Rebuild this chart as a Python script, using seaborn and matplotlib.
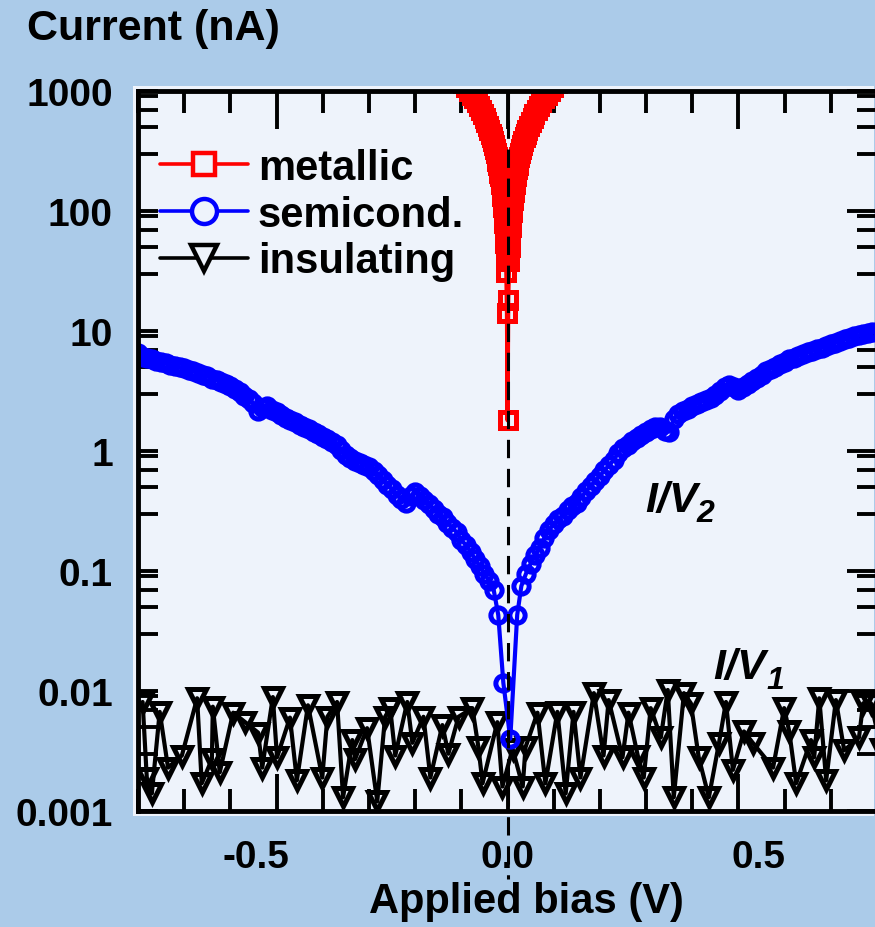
import matplotlib
matplotlib.use("Agg")
import matplotlib.pyplot as plt
import matplotlib.transforms as mtransforms
from matplotlib.lines import Line2D
from matplotlib.patches import Rectangle
from matplotlib.ticker import FixedLocator, FixedFormatter, LogLocator, NullFormatter, MultipleLocator
import seaborn as sns

# ---------------- data (bias in V, current in nA) ----------------
metal_bias_neg = [-0.1129, -0.1048, -0.0973, -0.0903, -0.0838, -0.0778, -0.0722, -0.0670, -0.0622, -0.0577,
                  -0.0535, -0.0497, -0.0461, -0.0428, -0.0397, -0.0368, -0.0342, -0.0318, -0.0294, -0.0273,
                  -0.0253, -0.0235, -0.0218, -0.0203, -0.0188, -0.0174, -0.0162, -0.0150, -0.0139, -0.0129,
                  -0.0120, -0.0112, -0.0103, -0.0096, -0.0089, -0.0083, -0.0077, -0.0071, -0.0066, -0.0061,
                  -0.0057, -0.0053, -0.0048, -0.0045, -0.0042, -0.0038, -0.0035, -0.0032, -0.0026, -0.0012]
metal_curr_neg = [1355, 1258, 1167, 1083, 1005, 933, 866, 804, 746, 692,
                  642, 596, 553, 513, 476, 442, 410, 381, 353, 328,
                  304, 282, 262, 243, 225, 209, 194, 180, 167, 155,
                  144, 134, 124, 115, 107, 99, 92, 85, 79, 73,
                  68, 63, 58, 54, 50, 46, 42, 38, 31, 14]
metal_bias_zero = [0.0002]
metal_curr_zero = [1.8]
metal_bias_pos = [0.0016, 0.0035, 0.0038, 0.0042, 0.0045, 0.0049, 0.0053, 0.0057, 0.0062, 0.0066,
                  0.0072, 0.0077, 0.0084, 0.0090, 0.0097, 0.0105, 0.0113, 0.0122, 0.0131, 0.0141,
                  0.0152, 0.0164, 0.0176, 0.0190, 0.0205, 0.0221, 0.0238, 0.0256, 0.0276, 0.0298,
                  0.0321, 0.0346, 0.0373, 0.0402, 0.0433, 0.0466, 0.0503, 0.0542, 0.0584, 0.0629,
                  0.0678, 0.0731, 0.0787, 0.0848, 0.0914, 0.0985, 0.1061, 0.1144, 0.1232]
metal_curr_pos = [18, 38, 42, 46, 50, 54, 58, 63, 68, 73,
                  79, 85, 92, 99, 107, 115, 124, 134, 144, 155,
                  167, 180, 194, 209, 225, 243, 262, 282, 304, 328,
                  353, 381, 410, 442, 476, 513, 553, 596, 642, 692,
                  746, 804, 866, 933, 1005, 1083, 1167, 1258, 1355]

semi_bias = [-0.80, -0.79, -0.78, -0.77, -0.76, -0.75, -0.74, -0.73, -0.72, -0.71,
             -0.70, -0.69, -0.68, -0.67, -0.66, -0.65, -0.64, -0.63, -0.62, -0.61,
             -0.60, -0.59, -0.58, -0.57, -0.56, -0.55, -0.54, -0.53, -0.52, -0.51,
             -0.50, -0.49, -0.48, -0.47, -0.46, -0.45, -0.44, -0.43, -0.42, -0.41,
             -0.40, -0.39, -0.38, -0.37, -0.36, -0.35, -0.34, -0.33, -0.32, -0.31,
             -0.30, -0.29, -0.28, -0.27, -0.26, -0.25, -0.24, -0.23, -0.22, -0.21,
             -0.20, -0.19, -0.18, -0.17, -0.16, -0.15, -0.14, -0.13, -0.12, -0.11,
             -0.10, -0.09, -0.08, -0.07, -0.06, -0.05, -0.04, -0.03,
             -0.020, -0.009, 0.006, 0.021,
             0.03, 0.04, 0.05, 0.06, 0.07, 0.08, 0.09, 0.10, 0.11, 0.12,
             0.13, 0.14, 0.15, 0.16, 0.17, 0.18, 0.19, 0.20, 0.21, 0.22,
             0.23, 0.24, 0.25, 0.26, 0.27, 0.28, 0.29, 0.30, 0.31, 0.32,
             0.33, 0.34, 0.35, 0.36, 0.37, 0.38, 0.39, 0.40, 0.41, 0.42,
             0.43, 0.44, 0.45, 0.46, 0.47, 0.48, 0.49, 0.50, 0.51, 0.52,
             0.53, 0.54, 0.55, 0.56, 0.57, 0.58, 0.59, 0.60, 0.61, 0.62,
             0.63, 0.64, 0.65, 0.66, 0.67, 0.68, 0.69, 0.70, 0.71, 0.72,
             0.73, 0.74, 0.75, 0.76, 0.77, 0.78, 0.79, 0.80]
semi_curr = [6.5, 6.1, 6.0, 5.8, 5.6, 5.5, 5.4, 5.2, 5.1, 5.0,
             4.9, 4.7, 4.6, 4.5, 4.3, 4.2, 4.0, 3.9, 3.75, 3.6,
             3.45, 3.3, 3.1, 2.9, 2.7, 2.5, 2.15, 2.3, 2.35, 2.2,
             2.1, 2.0, 1.9, 1.82, 1.75, 1.66, 1.58, 1.52, 1.45, 1.38,
             1.3, 1.25, 1.18, 1.12, 1.02, 0.93, 0.87, 0.82, 0.80, 0.77,
             0.74, 0.68, 0.63, 0.57, 0.52, 0.48, 0.43, 0.40, 0.37, 0.42,
             0.455, 0.42, 0.39, 0.36, 0.33, 0.30, 0.28, 0.25, 0.23, 0.21,
             0.18, 0.165, 0.145, 0.125, 0.11, 0.095, 0.083, 0.070,
             0.043, 0.0117, 0.004, 0.043,
             0.075, 0.095, 0.115, 0.135, 0.155, 0.19, 0.22, 0.245, 0.27, 0.29,
             0.32, 0.345, 0.37, 0.41, 0.46, 0.51, 0.565, 0.62, 0.69, 0.76,
             0.84, 0.97, 1.05, 1.12, 1.20, 1.29, 1.36, 1.44, 1.52, 1.58,
             1.60, 1.48, 1.45, 1.85, 2.05, 2.15, 2.25, 2.38, 2.48, 2.58,
             2.68, 2.77, 2.95, 3.15, 3.40, 3.55, 3.40, 3.22, 3.40, 3.62,
             3.80, 4.05, 4.30, 4.60, 4.85, 5.05, 5.30, 5.55, 5.80, 6.00,
             6.20, 6.45, 6.65, 6.85, 7.05, 7.25, 7.50, 7.75, 8.00, 8.25,
             8.50, 8.75, 9.00, 9.20, 9.40, 9.60, 9.75, 9.90]

ins_bias = [-0.790, -0.781, -0.770, -0.753, -0.735, -0.705, -0.672, -0.662, -0.640, -0.638,
            -0.623, -0.594, -0.568, -0.540, -0.531, -0.508, -0.499, -0.471, -0.456, -0.432,
            -0.401, -0.390, -0.369, -0.356, -0.336, -0.330, -0.304, -0.282, -0.265, -0.254,
            -0.243, -0.217, -0.206, -0.182, -0.167, -0.141, -0.128, -0.106, -0.076, -0.063,
            -0.054, -0.022, -0.011, 0.011, 0.033, 0.039, 0.065, 0.082, 0.108, 0.126,
            0.143, 0.158, 0.187, 0.208, 0.219, 0.249, 0.262, 0.282, 0.295, 0.310,
            0.332, 0.347, 0.360, 0.382, 0.397, 0.414, 0.436, 0.458, 0.473, 0.488,
            0.512, 0.531, 0.575, 0.599, 0.610, 0.625, 0.657, 0.664, 0.675, 0.690,
            0.711, 0.729, 0.761, 0.770, 0.787, 0.809]
ins_curr = [0.0081, 0.0019, 0.0014, 0.0067, 0.0023, 0.0029, 0.0087, 0.0017, 0.0027, 0.0074,
            0.0021, 0.0066, 0.0055, 0.0045, 0.0023, 0.0089, 0.0028, 0.0060, 0.0018, 0.0076,
            0.0019, 0.0061, 0.0081, 0.0013, 0.0039, 0.0027, 0.0049, 0.0012, 0.0061, 0.0072,
            0.0029, 0.0081, 0.0037, 0.0061, 0.0019, 0.0052, 0.0030, 0.0061, 0.0072, 0.0034,
            0.0017, 0.0055, 0.0016, 0.0033, 0.0016, 0.0034, 0.0066, 0.0017, 0.0067, 0.0014,
            0.0067, 0.0019, 0.0096, 0.0029, 0.0084, 0.0028, 0.0066, 0.0029, 0.0019, 0.0072,
            0.0041, 0.0102, 0.0013, 0.0096, 0.0079, 0.0028, 0.0013, 0.0037, 0.0081, 0.0022,
            0.0046, 0.0037, 0.0023, 0.0072, 0.0046, 0.0017, 0.0039, 0.0028, 0.0087, 0.0018,
            0.0084, 0.0032, 0.0041, 0.0079, 0.0079, 0.0033]

series_labels = ["metallic", "semicond.", "insulating"]
ytick_values = [1e-3, 1e-2, 1e-1, 1, 10, 100, 1000]
ytick_labels = ["0.001", "0.01", "0.1", "1", "10", "100", "1000"]
xtick_values = [-0.5, 0.0, 0.5]
xtick_labels = ["-0.5", "0.0", "0.5"]

# ---------------- style ----------------
sns.set_style("ticks")
plt.rcParams["font.family"] = ["Liberation Sans", "DejaVu Sans"]
plt.rcParams["font.weight"] = "bold"
for key in ("text.color", "axes.labelcolor", "xtick.color", "ytick.color", "axes.edgecolor"):
    plt.rcParams[key] = "black"

BG = "#abcbe9"
FACE = "#eef3fb"
W, H = 875, 928


def fx(px):
    return px / W


def fy(py):
    return 1 - py / H


fig = plt.figure(figsize=(W / 100, H / 100), dpi=100, facecolor=BG)
ax = fig.add_axes([fx(138), fy(812), fx(877) - fx(138), fy(92) - fy(812)])
ax.patch.set_visible(False)
fig.patches.append(Rectangle((fx(133), fy(817)), fx(873.5) - fx(133), fy(87) - fy(817),
                             transform=fig.transFigure, facecolor=FACE, edgecolor="none", zorder=-1))

line_kw = dict(sort=False, estimator=None, legend=False, ax=ax, linewidth=3.0,
               markerfacecolor="none", mew=3.6)

sns.lineplot(x=ins_bias, y=ins_curr, color="black", marker="v", markersize=13, mec="black", **line_kw)
sns.lineplot(x=semi_bias, y=semi_curr, color="#0000ff", marker="o", markersize=11, mec="#0000ff", **line_kw)
sns.lineplot(x=metal_bias_neg + metal_bias_zero + metal_bias_pos,
             y=metal_curr_neg + metal_curr_zero + metal_curr_pos,
             color="#ff0000", marker="s", markersize=11.5, mec="#ff0000", **line_kw)

# zero-bias guide
ax.plot([0, 0], [1000, 2.7e-4], color="black", lw=2.2, ls=(0, (6, 3.5)), clip_on=False, zorder=6)

ax.set_yscale("log")
ax.set_xlim(-0.8, 0.8)
ax.set_ylim(1e-3, 1e3)

ax.yaxis.set_major_locator(FixedLocator(ytick_values))
ax.yaxis.set_major_formatter(FixedFormatter(ytick_labels))
ax.yaxis.set_minor_locator(LogLocator(base=10, subs=(3, 5, 7, 9)))
ax.yaxis.set_minor_formatter(NullFormatter())
ax.xaxis.set_major_locator(FixedLocator(xtick_values))
ax.xaxis.set_major_formatter(FixedFormatter(xtick_labels))
ax.xaxis.set_minor_locator(MultipleLocator(0.1))

for s in ax.spines.values():
    s.set_linewidth(3.5)
    s.set_color("black")

ax.tick_params(which="both", direction="in", top=True, right=True, width=2.8, color="black",
               labelcolor="black")
ax.tick_params(axis="x", which="major", length=27, pad=20, labelsize=28)
ax.tick_params(axis="x", which="minor", length=16)
ax.tick_params(axis="y", which="major", length=14.5, pad=18, labelsize=28)
ax.tick_params(axis="y", which="minor", length=14.5)
for lab in ax.get_xticklabels() + ax.get_yticklabels():
    lab.set_fontweight("bold")

for t in ax.yaxis.get_major_ticks():
    t.tick2line.set_markersize(21.6)

for lab, dx in zip(ax.get_xticklabels(), [-21, 0, 20]):
    lab.set_transform(lab.get_transform() + mtransforms.ScaledTranslation(dx / 100, 0, fig.dpi_scale_trans))

ax.set_xlabel("Applied bias (V)", fontsize=30, fontweight="bold", color="black")
ax.xaxis.set_label_coords((526 - 138) / 739, (812 - 882) / 720)
ax.set_ylabel("")
fig.text(fx(27), fy(40), "Current (nA)", fontsize=31, fontweight="bold", va="baseline", ha="left",
         color="black")

# regime annotations
fig.text(fx(645), fy(512), "I/V", fontsize=31, fontweight="bold", style="italic", va="baseline", color="black")
fig.text(fx(697), fy(522), "2", fontsize=23, fontweight="bold", style="italic", va="baseline", color="black")
fig.text(fx(713), fy(679), "I/V", fontsize=31, fontweight="bold", style="italic", va="baseline", color="black")
fig.text(fx(766), fy(689), "1", fontsize=23, fontweight="bold", style="italic", va="baseline", color="black")

handles = [
    Line2D([], [], color="#ff0000", lw=2.6, marker="s", markersize=16, mfc=FACE, mec="#ff0000", mew=3.2),
    Line2D([], [], color="#0000ff", lw=2.6, marker="o", markersize=18, mfc=FACE, mec="#0000ff", mew=3.2),
    Line2D([], [], color="black", lw=2.6, marker="v", markersize=19, mfc=FACE, mec="black", mew=3.2),
]
leg = ax.legend(handles, series_labels, loc="upper left", bbox_to_anchor=(22 / 739, (812 - 149) / 720),
                frameon=False, fontsize=30, handlelength=2.1, handletextpad=0.25, labelspacing=0.16,
                borderaxespad=0, borderpad=0)
for txt in leg.get_texts():
    txt.set_fontweight("bold")
    txt.set_color("black")

fig.savefig("out.png", dpi=100, facecolor=BG)
